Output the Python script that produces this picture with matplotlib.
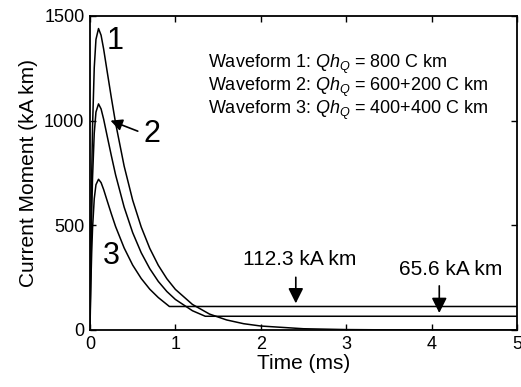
import matplotlib
matplotlib.use("Agg")
import matplotlib.pyplot as plt

plt.rcParams['font.family'] = ['Liberation Sans', 'DejaVu Sans']
plt.rcParams['mathtext.fontset'] = 'custom'
plt.rcParams['mathtext.it'] = 'Liberation Sans:italic'
plt.rcParams['mathtext.rm'] = 'Liberation Sans'

# waveform 1: impulsive only (800 C km)
t1 = [0, 0.01, 0.02, 0.03, 0.05, 0.07, 0.1, 0.13, 0.16, 0.2, 0.25, 0.3, 0.4, 0.5,
      0.6, 0.7, 0.8, 0.9, 1.0, 1.2, 1.4, 1.6, 1.8, 2.0, 2.5, 3.0, 3.5, 4.0, 5.0]
m1 = [0, 425, 738, 969, 1253, 1388, 1440, 1408, 1342, 1238, 1110, 988, 783, 620,
      492, 390, 309, 245, 194, 122, 76, 48, 30, 19, 6, 2, 0.6, 0.2, 0]

# waveform 2: 600 + 200 C km (continuing 65.6 kA km)
t2 = [0, 0.01, 0.02, 0.03, 0.05, 0.07, 0.1, 0.13, 0.16, 0.2, 0.25, 0.3, 0.4, 0.5,
      0.6, 0.7, 0.8, 0.9, 1.0, 1.2, 1.35, 5.0]
m2 = [0, 319, 554, 727, 940, 1041, 1080, 1056, 1007, 929, 833, 741, 587, 465,
      369, 293, 232, 184, 146, 92, 65.6, 65.6]

# waveform 3: 400 + 400 C km (continuing 112.3 kA km)
t3 = [0, 0.01, 0.02, 0.03, 0.05, 0.07, 0.1, 0.13, 0.16, 0.2, 0.25, 0.3, 0.4, 0.5,
      0.6, 0.7, 0.8, 0.93, 5.0]
m3 = [0, 213, 369, 485, 627, 694, 720, 704, 671, 619, 555, 494, 392, 310,
      246, 195, 155, 112.3, 112.3]

legend_lines = [r'Waveform 1: $Qh_Q$ = 800 C km',
                r'Waveform 2: $Qh_Q$ = 600+200 C km',
                r'Waveform 3: $Qh_Q$ = 400+400 C km']

fig = plt.figure(figsize=(5.21, 3.87), dpi=100)
ax = fig.add_axes([0.1727, 0.1473, 0.8196, 0.8114])

for t, m in [(t1, m1), (t2, m2), (t3, m3)]:
    ax.plot(t, m, color='k', lw=1.1)

ax.set_xlim(0, 5)
ax.set_ylim(0, 1500)
ax.set_xticks([0, 1, 2, 3, 4, 5])
ax.set_yticks([0, 500, 1000, 1500])
ax.tick_params(direction='in', length=4, width=1, top=True, right=True,
               labelsize=13, pad=4)
for s in ax.spines.values():
    s.set_linewidth(1.3)
ax.set_xlabel('Time (ms)', fontsize=15, labelpad=1)
ax.set_ylabel('Current Moment (kA km)', fontsize=15, labelpad=4)

arrow = dict(arrowstyle='-|>,head_length=0.7,head_width=0.35', color='k',
             lw=1.2, mutation_scale=13)
arrow_small = dict(arrowstyle='-|>,head_length=0.7,head_width=0.35', color='k',
                   lw=1.2, mutation_scale=10)

# curve labels
ax.text(0.29, 1381, '1', fontsize=22, ha='center', va='center')
ax.text(0.73, 936, '2', fontsize=22, ha='center', va='center')
ax.text(0.25, 354, '3', fontsize=22, ha='center', va='center')
ax.annotate('', xy=(0.21, 1005), xytext=(0.59, 945), arrowprops=arrow_small)

# legend text block
for i, s in enumerate(legend_lines):
    ax.text(1.38, 1271 - i * 110, s, fontsize=13, ha='left', va='center')

# continuing current annotations
ax.text(2.46, 338, '112.3 kA km', fontsize=15, ha='center', va='center')
ax.annotate('', xy=(2.41, 114), xytext=(2.41, 265), arrowprops=arrow)
ax.text(4.22, 290, '65.6 kA km', fontsize=15, ha='center', va='center')
ax.annotate('', xy=(4.09, 68), xytext=(4.09, 224), arrowprops=arrow)

fig.savefig('out.png', dpi=100)
